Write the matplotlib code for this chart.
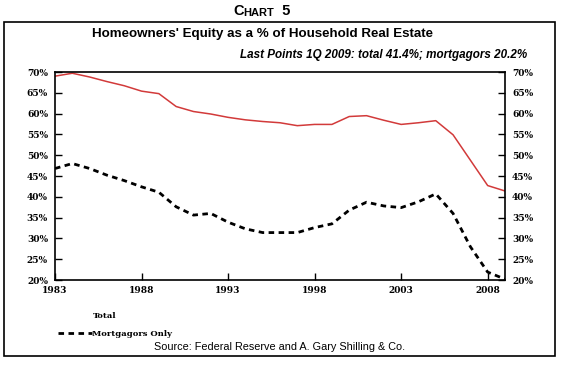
import matplotlib
matplotlib.use('Agg')
import matplotlib.pyplot as plt
from matplotlib.lines import Line2D
from matplotlib.patches import Rectangle
from matplotlib.ticker import FuncFormatter

# annual readings, 1983 - 2009 (last point 1Q 2009)
years = list(range(1983, 2010))
total = [69.0, 69.7, 68.8, 67.7, 66.7, 65.4, 64.8, 61.7, 60.5, 59.9,
         59.1, 58.5, 58.1, 57.8, 57.1, 57.4, 57.4, 59.3, 59.5, 58.4,
         57.4, 57.8, 58.3, 54.9, 48.8, 42.7, 41.4]
mortgagors = [46.8, 48.0, 46.8, 45.2, 43.9, 42.4, 41.1, 37.6, 35.6, 36.0,
              33.9, 32.3, 31.4, 31.4, 31.4, 32.6, 33.5, 36.8, 38.7, 37.8,
              37.4, 38.8, 40.7, 36.0, 28.0, 21.9, 20.2]
xticks = [1983, 1988, 1993, 1998, 2003, 2008]
yticks = [20, 25, 30, 35, 40, 45, 50, 55, 60, 65, 70]

sans = 'Liberation Sans'
tickfont = {'family': 'DejaVu Serif', 'weight': 'bold', 'size': 6.5}
legfont = {'family': 'DejaVu Serif', 'weight': 'bold', 'size': 6}

fig = plt.figure(figsize=(5.61, 3.66), dpi=100)
fig.patch.set_facecolor('white')

# outer frame round the chart body
fig.patches.append(Rectangle((4 / 561, 10 / 366), 551 / 561, 334 / 366,
                             transform=fig.transFigure, fill=False,
                             edgecolor='black', linewidth=1.2))

ax = fig.add_axes([55 / 561, 86 / 366, 450 / 561, 208 / 366])
ax.plot(years, total, color='#d23a3a', linewidth=1.1)
ax.plot(years, mortgagors, color='black', linewidth=2.0,
        linestyle=(0, (2.0, 1.6)))

ax.set_xlim(1983, 2009)
ax.set_ylim(20, 70)
ax.set_xticks(xticks)
ax.set_yticks(yticks)
ax.yaxis.set_major_formatter(FuncFormatter(lambda v, p: '%d%%' % v))
ax.tick_params(direction='in', length=5, width=1, pad=4)
ax.tick_params(axis='y', right=True, labelright=True, pad=5)
for t in ax.xaxis.get_major_ticks():
    t.label1.set_fontproperties(tickfont)
for t in ax.yaxis.get_major_ticks():
    t.label1.set_fontproperties(tickfont)
    t.label2.set_fontproperties(tickfont)
for s in ax.spines.values():
    s.set_linewidth(1.2)

# legend: the red sample for Total is not visible in the original
handles = [Line2D([], [], color='none'),
           Line2D([], [], color='black', linewidth=2.0,
                  linestyle=(0, (2.0, 1.6)))]
ax.legend(handles, ['Total', 'Mortgagors Only'], loc='center left',
          bbox_to_anchor=(55 / 561, 41 / 366), bbox_transform=fig.transFigure,
          frameon=False, prop=legfont, handlelength=4.0, handletextpad=0.1,
          labelspacing=1.15, borderaxespad=0)

# heading, in small caps
c = fig.text(233 / 561, 351 / 366, 'C', fontfamily=sans, fontweight='bold',
             fontsize=10.5, va='baseline')
h = ax.annotate('HART', xy=(1, 0), xycoords=c, fontfamily=sans,
                fontweight='bold', fontsize=8, va='bottom', annotation_clip=False)
ax.annotate('  5', xy=(1, 0), xycoords=h, fontfamily=sans, fontweight='bold',
            fontsize=10.5, va='bottom', annotation_clip=False)

fig.text(262 / 561, 332 / 366, "Homeowners' Equity as a % of Household Real Estate",
         fontfamily=sans, fontweight='bold', fontsize=9.6, ha='center',
         va='center')
fig.text(527 / 561, 311 / 366, 'Last Points 1Q 2009: total 41.4%; mortgagors 20.2%',
         fontfamily=sans, fontweight='bold', fontstyle='italic', fontsize=8.4,
         ha='right', va='center')
fig.text(280 / 561, 19 / 366, 'Source: Federal Reserve and A. Gary Shilling & Co.',
         fontfamily=sans, fontsize=7.8, ha='center', va='center')

fig.savefig('out.png', dpi=100, facecolor='white')
